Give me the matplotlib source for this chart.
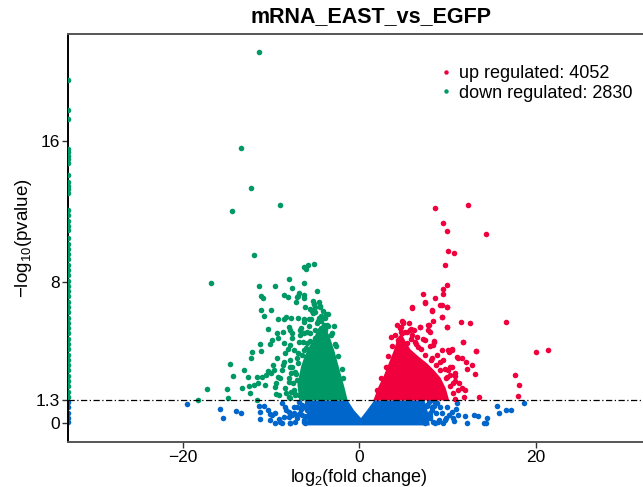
import numpy as np
import matplotlib
matplotlib.use("Agg")
import matplotlib.pyplot as plt
from matplotlib.lines import Line2D

plt.rcParams['font.family'] = ['Liberation Sans', 'DejaVu Sans']
plt.rcParams['mathtext.fontset'] = 'custom'
plt.rcParams['mathtext.rm'] = 'Liberation Sans'
plt.rcParams['mathtext.it'] = 'Liberation Sans:italic'

title = "mRNA_EAST_vs_EGFP"
n_up = 4052
n_down = 2830
p_cut = 1.3          # -log10(0.05)
NEG_INF = float('-inf')

# dense cores (outline of the solid masses)
ns_core_x = [-5.9, -5.9, -1.3, -0.6, 0.2, 0.9, 1.7, 7.4, 7.8, 8.0]
ns_core_y = [-0.12, 1.3, 1.3, 0.75, 0.3, 0.75, 1.3, 1.3, 0.6, -0.12]
down_core_x = [-6.8, -7.0, -6.6, -6.2, -5.2, -4.5, -4.0, -3.4, -2.8, -2.2, -1.7, -1.3]
down_core_y = [1.3, 2.2, 3.2, 3.8, 4.8, 5.5, 5.6, 5.0, 4.1, 3.0, 2.1, 1.3]
up_core_x = [1.6, 2.2, 2.75, 3.5, 3.9, 4.4, 4.8, 5.3, 5.8, 6.7, 7.7, 8.5, 9.2, 9.8, 10.2]
up_core_y = [1.3, 2.1, 2.65, 3.6, 4.1, 4.9, 5.1, 4.6, 4.2, 3.8, 3.4, 3.0, 2.6, 2.0, 1.3]

# scattered genes: down regulated
down_x = [-11.4, -13.36, -12.27, -14.38, -8.95, -11.97, -16.76, -5.17, -5.78, -6.26,
          -6.08, -7.93, -11.4, -9.5, -6.2, -7.59, -4.79, -8.57, -8.04, -6.94,
          -6.26, -11.13, -10.95, -7.06, -6.83, -6.23, -5.25, -5.13, -4.45, -5.06,
          -11.18, -10.05, -10.84, -8.27, -7.78, -9.17, -8.49, -6.91, -6.2, -5.74,
          -10.34, -8.69, -7.89, -6.72, -6.23, -11.29, -10.16, -11.1, -9.25, -8.12,
          -7.67, -12.15, -12.23, -14.65, -13.1, -14.3, -12.57, -11.63, -11.06, -10.34,
          -10.0, -10.6, -9.2, -9.82, -8.64, -7.78, -17.25, -14.98, -13.25, -12.46,
          -11.97, -11.47, -10.68, -9.4, -12.38, -14.87, -18.3, -11.55, -9.43, -8.3,
          -7.85, -7.28,
          -7.13, -6.12, -5.17, -4.42, -5.25, -4.6, -6.3, -5.74, -4.79, -4.42,
          -4.04, -8.0, -7.62, -6.68, -5.55, -4.98, -4.04, -9.32, -9.89, -8.57,
          -7.81, -6.87, -5.92, -4.42, -3.66, -8.38, -7.44, -6.31, -5.36, -9.32,
          -8.57, -7.81, -7.06, -9.7, -8.75, -7.81, -7.25, -8.95, -8.0, -7.06,
          -9.51, -8.38, -7.44, -6.49, -9.14, -8.0, -6.87,
          -3.9, -3.5, -4.3, -3.2, -2.7, -3.8, -5.0, -5.6,
          -7.3, -7.5, -7.2, -6.9, -6.5, -6.0, -5.6, -5.0, -4.7, -4.3,
          -3.9, -3.6, -3.1, -2.6, -2.4, -2.0, -1.8, -5.3, -4.6, -5.9,
          -6.4, -6.9, -7.6, -7.9, -7.7, -6.6, -5.5, -4.1, -3.5, -2.9]
down_y = [21.06, 15.64, 13.33, 12.08, 12.4, 9.55, 7.97, 9.05, 8.96, 8.88,
          8.75, 8.22, 7.82, 7.78, 7.97, 7.67, 7.5, 7.3, 7.15, 7.2,
          7.1, 7.2, 7.1, 7.19, 7.39, 7.29, 6.97, 6.78, 6.68, 6.59,
          6.42, 6.44, 6.1, 6.05, 5.98, 5.95, 5.92, 6.0, 5.94, 5.95,
          5.37, 5.2, 5.28, 5.3, 5.12, 4.52, 4.49, 4.12, 4.85, 4.2,
          4.83, 4.03, 3.71, 3.35, 3.01, 2.67, 2.65, 2.63, 2.63, 2.95,
          2.86, 2.76, 2.65, 3.3, 3.31, 2.84, 1.97, 1.93, 2.02, 2.14,
          2.16, 2.31, 2.16, 2.27, 1.74, 1.44, 1.35, 1.35, 1.67, 1.74,
          1.42, 1.67,
          6.91, 6.59, 6.78, 6.63, 6.28, 5.96, 5.77, 5.53, 5.72, 5.3,
          5.59, 5.49, 5.11, 5.02, 5.11, 4.83, 5.02, 5.11, 4.73, 4.55,
          4.45, 4.64, 4.55, 4.55, 4.35, 3.98, 4.16, 4.16, 4.07, 3.69,
          3.5, 3.6, 3.69, 3.03, 3.03, 3.22, 2.93, 2.56, 2.36, 2.46,
          2.08, 1.99, 1.89, 1.99, 1.61, 1.51, 1.61,
          5.3, 5.5, 5.8, 5.0, 4.5, 6.2, 6.3, 6.5,
          1.6, 2.3, 2.8, 3.4, 3.9, 4.3, 4.7, 5.3, 5.8, 6.1,
          6.0, 5.6, 5.1, 4.4, 3.8, 3.1, 2.6, 6.4, 6.9, 5.2,
          4.6, 4.0, 3.2, 2.6, 1.8, 5.4, 5.9, 6.4, 6.2, 5.5]
# genes with -Inf fold change, drawn on the panel edge
down_inf_y = [19.5, 17.8, 17.3, 15.6, 15.4, 15.2, 15.0, 14.8, 14.1, 13.7,
              13.5, 13.3, 13.1, 12.1, 11.8, 11.5, 11.2, 11.0, 10.5, 10.2,
              9.9, 9.6, 9.3, 9.0, 8.7, 8.4, 8.1, 7.8, 7.5, 7.2,
              6.9, 6.6, 6.3, 6.0, 5.7, 5.4, 5.1, 4.8, 4.5, 4.2,
              3.9, 3.6, 3.3, 3.0, 2.7, 2.4, 2.1, 1.8, 1.5]

# scattered genes: up regulated
up_x = [8.61, 12.31, 9.44, 9.93, 14.35, 10.05, 10.76, 9.7, 9.93, 9.48,
        9.55, 7.28, 7.51, 8.61, 6.0, 8.27, 9.4, 10.0, 9.4, 9.93,
        8.35, 6.91, 7.89, 7.85, 11.52, 12.57, 5.78, 4.76, 4.72, 16.6,
        11.78, 13.28, 10.04, 10.57, 11.17, 11.7, 12.12, 12.76, 12.26, 13.14,
        20.05, 21.37, 17.67, 18.08, 18.0, 13.63, 11.82, 12.04, 11.63, 10.87,
        10.83, 10.31, 9.74, 10.5,
        5.97, 7.47, 8.23, 9.17, 10.0, 9.36, 5.02, 4.64, 4.83, 5.21,
        5.78, 5.97, 6.91, 7.85, 8.04, 9.93, 4.45, 5.4, 6.34, 6.72,
        7.47, 8.42, 9.36, 10.12, 10.5, 11.06, 8.23, 9.17, 10.31, 10.87,
        9.93, 10.68, 11.25, 5.02, 5.85, 8.49, 8.35, 11.81, 13.25,
        2.0, 2.5, 3.0, 3.3, 3.7, 4.1, 4.3, 4.9, 5.4, 5.9,
        6.4, 7.0, 7.5, 8.1, 8.7, 9.2, 9.8, 10.3, 10.6, 10.9,
        6.2, 7.2, 8.0, 8.8, 9.5, 10.1, 3.6, 5.6, 6.6, 11.3]
up_y = [12.25, 12.4, 11.36, 10.93, 10.76, 9.77, 9.68, 8.96, 7.84, 7.61,
        7.35, 7.33, 6.85, 7.1, 6.57, 6.36, 6.72, 6.59, 6.02, 5.45,
        5.83, 5.47, 5.57, 5.28, 5.74, 5.7, 5.3, 5.45, 5.2, 5.77,
        4.64, 4.11, 4.17, 4.22, 3.69, 3.73, 3.47, 3.31, 3.09, 2.78,
        4.07, 4.18, 2.74, 2.18, 1.57, 1.51, 1.51, 1.89, 1.99, 2.4,
        2.69, 2.75, 3.09, 3.22,
        6.63, 6.91, 6.44, 6.72, 6.63, 6.06, 5.68, 5.4, 5.11, 5.2,
        5.3, 5.02, 5.49, 5.59, 5.2, 5.49, 4.73, 4.55, 4.64, 4.35,
        4.73, 4.64, 4.16, 4.07, 4.16, 3.79, 3.69, 3.5, 3.22, 2.84,
        2.65, 2.27, 1.89, 5.74, 5.36, 4.69, 4.45, 4.64, 4.13,
        1.9, 2.6, 3.2, 3.8, 4.4, 5.0, 5.6, 5.8, 5.2, 4.8,
        4.5, 4.2, 3.9, 3.6, 3.3, 3.0, 2.6, 2.1, 1.7, 1.4,
        5.3, 4.8, 4.4, 3.9, 3.6, 3.0, 4.9, 5.7, 4.9, 2.3]

# scattered genes: not significant
ns_x = [-19.5, -15.74, -15.4, -13.96, -13.4, -11.33, -10.84, -10.34, -11.21, -10.08,
        -9.51, -11.29, -10.16, -9.14, -8.75, -7.81, -8.0, -8.35, -7.06, -7.44,
        -9.89, -9.51, -8.75, -8.38, -8.0, -8.57, -7.62, -7.06, -6.49, -6.68,
        -5.92, -7.25, -6.31, -7.81, -8.95, -6.0, -6.6, -5.9,
        -6.3, -6.5, -6.2, -6.8, -7.0, -6.6, -7.4, -5.9, -6.1,
        18.69, 15.63, 15.86, 16.69, 17.25, 14.19, 14.35, 14.53, 13.02, 13.48,
        12.27, 12.04, 10.72, 9.85, 10.23, 10.95,
        7.67, 8.23, 8.8, 9.36, 9.93, 10.5, 11.06, 8.04, 8.98, 9.74,
        10.68, 11.25, 8.61, 9.55, 8.0, 8.5, 9.0,
        7.9, 8.2, 8.0, 8.4, 8.7, 7.7, 8.5, 9.1, 7.5]
ns_y = [1.08, 0.83, 0.32, 0.7, 0.59, 0.98, 0.98, 0.74, 0.64, 0.51,
        0.59, 0.23, 0.19, 0.23, 0.0, 0.02, 0.38, 0.76, 0.47, 0.94,
        0.47, 0.02, 1.14, 0.94, 0.66, 0.38, 0.47, 0.94, 1.04, 0.57,
        0.76, 0.09, 0.19, 0.02, 0.09, 0.4, 0.8, 1.1,
        0.1, 0.5, 0.9, 1.2, 0.3, 0.8, 0.6, 1.25, 0.0,
        1.17, 0.98, 0.57, 0.74, 0.74, 0.03, 0.0, 0.3, 0.49, 0.43,
        0.0, 0.41, 0.13, 0.28, 0.47, 0.8,
        1.04, 0.76, 1.14, 0.57, 0.94, 0.66, 1.14, 0.28, 0.09, 0.19,
        0.28, 0.47, 0.0, 0.0, 0.6, 1.0, 0.2,
        1.2, 0.9, 0.4, 0.1, 0.6, 1.0, 1.25, 0.9, 0.0]
ns_inf_y = [1.2, 0.9, 0.6, 0.3, 0.05]

x_range = (-33, 33)
y_range = (-1.06, 22.1)
col_up = '#F0003C'
col_down = '#009966'
col_ns = '#0066CC'
dot = 16

fig = plt.figure(figsize=(6.43, 4.87), dpi=100)
ax = fig.add_axes([68 / 643, 45 / 487, 582.4 / 643, 408 / 487])


def edge(vals):
    # -Inf fold changes sit on the left border of the panel, like ggplot does
    return [x_range[0] if np.isinf(v) else v for v in vals]


ax.fill(ns_core_x, ns_core_y, color=col_ns, lw=0, zorder=2)
ax.scatter(ns_x, ns_y, s=dot, c=col_ns, lw=0, zorder=2)
ax.scatter(edge([NEG_INF] * len(ns_inf_y)), ns_inf_y, s=dot, c=col_ns, lw=0, zorder=2)

ax.fill(down_core_x, down_core_y, color=col_down, lw=0, zorder=3)
ax.scatter(down_x, down_y, s=dot, c=col_down, lw=0, zorder=3)
ax.scatter(edge([NEG_INF] * len(down_inf_y)), down_inf_y, s=dot, c=col_down, lw=0, zorder=3)

ax.fill(up_core_x, up_core_y, color=col_up, lw=0, zorder=3)
ax.scatter(up_x, up_y, s=dot, c=col_up, lw=0, zorder=3)

ax.axhline(p_cut, color='black', lw=0.9, ls=(0, (5, 2, 1, 2)), zorder=4)

ax.set_xlim(x_range)
ax.set_ylim(y_range)
ax.set_xticks([-20, 0, 20])
ax.set_yticks([0, p_cut, 8, 16])
ax.set_yticklabels(['0', '1.3', '8', '16'])
ax.tick_params(labelsize=12.5, length=4, width=1, color='#333333', pad=2)
for side in ['left', 'bottom', 'top', 'right']:
    ax.spines[side].set_color('#555555')
    ax.spines[side].set_linewidth(1.4)
ax.spines['left'].set_color('black')

ax.set_xlabel('log$_2$(fold change)', fontsize=13, labelpad=1)
ax.set_ylabel('\u2212log$_{10}$(pvalue)', fontsize=13.5, labelpad=1)

fig.text(371 / 643, 1 - 17 / 487, title, fontsize=15.5, fontweight='bold',
         ha='center', va='center')

handles = [Line2D([], [], ls='', marker='o', ms=3.2, mec='none', mfc=col_up),
           Line2D([], [], ls='', marker='o', ms=3.2, mec='none', mfc=col_down)]
labels = ['up regulated: %d' % n_up, 'down regulated: %d' % n_down]
ax.legend(handles, labels, loc='upper left', bbox_to_anchor=(442.8 / 643, 1 - 65 / 487),
          bbox_transform=fig.transFigure, frameon=False, fontsize=13, borderpad=0,
          handlelength=0.4, handletextpad=0.5, labelspacing=0.15, borderaxespad=0)

fig.savefig('out.png', dpi=100)
